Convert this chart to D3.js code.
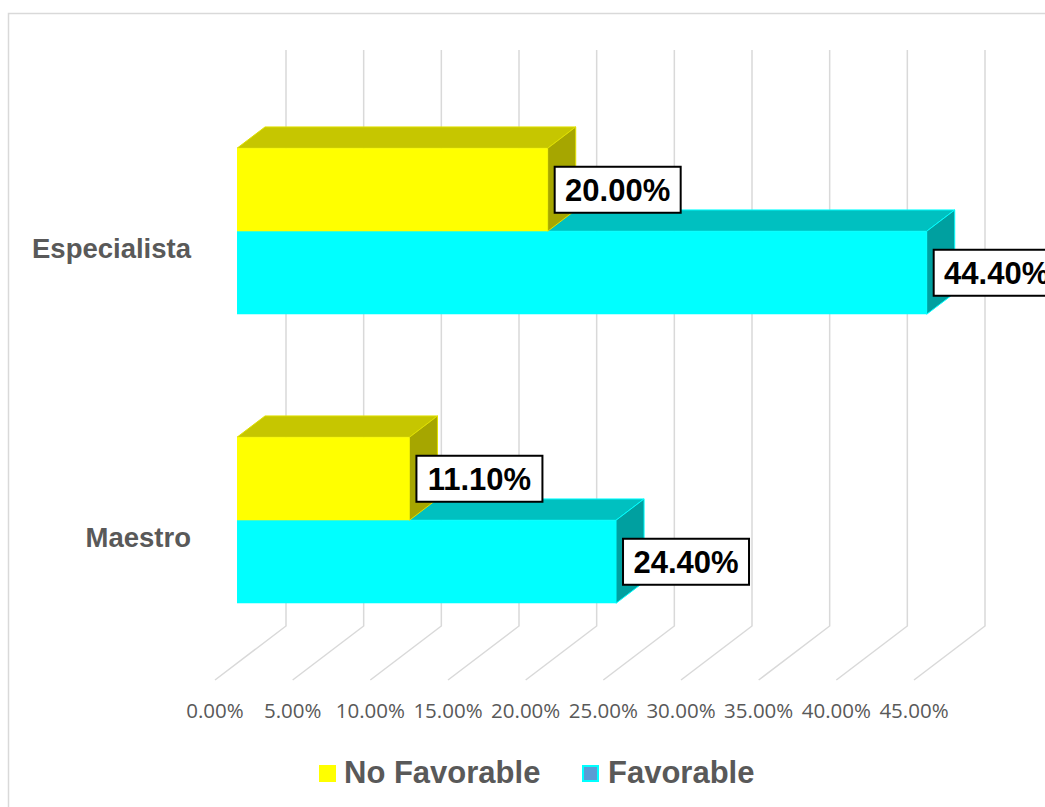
<!DOCTYPE html>
<html><head><meta charset="utf-8">
<script src="https://cdn.jsdelivr.net/npm/d3@7"></script>
<style>body{margin:0;background:#fff;overflow:hidden}</style></head>
<body>
<script>
const categories = ["Especialista", "Maestro"];
const seriesNames = ["No Favorable", "Favorable"];
const noFavorable = [20.0, 11.1];
const favorable = [44.4, 24.4];
const tickValues = [0, 5, 10, 15, 20, 25, 30, 35, 40, 45];
const tickLabels = ["0.00%", "5.00%", "10.00%", "15.00%", "20.00%", "25.00%", "30.00%", "35.00%", "40.00%", "45.00%"];

const W = 1045, H = 807;
const svg = d3.select("body").append("svg").attr("width", W).attr("height", H);

// chart border
svg.append("rect").attr("x", 8.5).attr("y", 13.5).attr("width", 1100).attr("height", 900)
  .attr("fill", "none").attr("stroke", "#D9D9D9").attr("stroke-width", 1.5);

// scales (front plane)
const x = d3.scaleLinear().domain([0, 45]).range([215, 914]);
const y = d3.scalePoint().domain(categories).range([248, 537]);
const DX = 71, DY = -54;          // full depth vector
const floorY = 680, topBack = 50;
const d0 = 0.31, d1 = 0.705;       // bar depth span
const barH = 83;
const P = (v, yy, d) => [x(v) + d * DX, yy + d * DY];

// gridlines: back wall verticals + floor diagonals
const grid = svg.append("g").attr("stroke", "#D9D9D9").attr("stroke-width", 1.5).attr("fill", "none");
tickValues.forEach(t => {
  const bx = x(t) + DX, by = floorY + DY;
  grid.append("path").attr("d", `M${bx},${topBack}L${bx},${by}L${x(t)},${floorY}`);
});

// axis tick labels
const axisG = svg.append("g");
tickValues.forEach((t, i) => {
  axisG.append("text").attr("x", x(t)).attr("y", 718).attr("text-anchor", "middle")
    .attr("font-family", "'Open Sans', sans-serif").attr("font-size", 20.5).attr("fill", "#595959")
    .text(tickLabels[i]);
});

// category labels
categories.forEach(c => {
  svg.append("text").attr("x", 191).attr("y", y(c) + 10).attr("text-anchor", "end")
    .attr("font-family", "'Liberation Sans', Arial, sans-serif").attr("font-weight", "bold")
    .attr("font-size", 27.5).attr("fill", "#595959").text(c);
});

const styles = {
  "No Favorable": {front: "#FFFF00", top: "#C6C600", side: "#A6A600", edge: "#E0E000"},
  "Favorable": {front: "#00FFFF", top: "#00C0C0", side: "#00A0A0", edge: "#00FFFF"}
};

function bar(g, v, yTop, st) {
  const yBot = yTop + barH;
  const poly = pts => "M" + pts.map(p => p.join(",")).join("L") + "Z";
  // top face
  g.append("path").attr("d", poly([P(0, yTop, d0), P(v, yTop, d0), P(v, yTop, d1), P(0, yTop, d1)]))
    .attr("fill", st.top).attr("stroke", st.edge).attr("stroke-width", 1);
  // side face
  g.append("path").attr("d", poly([P(v, yTop, d0), P(v, yTop, d1), P(v, yBot, d1), P(v, yBot, d0)]))
    .attr("fill", st.side).attr("stroke", st.edge).attr("stroke-width", 1);
  // front face
  const f0 = P(0, yTop, d0), f1 = P(v, yBot, d0);
  g.append("rect").attr("x", f0[0]).attr("y", f0[1]).attr("width", f1[0] - f0[0]).attr("height", f1[1] - f0[1])
    .attr("fill", st.front);
}

function label(v, yTop) {
  const fr = P(v, yTop, d0);
  const bx = fr[0] + 7, cy = fr[1] + barH / 2;
  const g = svg.append("g");
  g.append("rect").attr("x", bx).attr("y", cy - 23).attr("width", 126).attr("height", 46)
    .attr("fill", "#fff").attr("stroke", "#000").attr("stroke-width", 2);
  g.append("text").attr("x", bx + 63).attr("y", cy + 11).attr("text-anchor", "middle")
    .attr("font-family", "'Liberation Sans', Arial, sans-serif").attr("font-weight", "bold")
    .attr("font-size", 31).attr("fill", "#000").text(v.toFixed(2) + "%");
}

const barsG = svg.append("g");
categories.forEach((c, i) => {
  const yc = y(c);
  bar(barsG, favorable[i], yc, styles["Favorable"]);
  bar(barsG, noFavorable[i], yc - barH, styles["No Favorable"]);
});
categories.forEach((c, i) => {
  const yc = y(c);
  label(noFavorable[i], yc - barH);
  label(favorable[i], yc);
});

// legend
const leg = svg.append("g");
const legItems = [
  {name: seriesNames[0], sx: 319, tx: 344, fill: "#FFFF00", stroke: "none"},
  {name: seriesNames[1], sx: 582, tx: 608, fill: "#5B9BD5", stroke: "#00FFFF"}
];
legItems.forEach(it => {
  leg.append("rect").attr("x", it.sx + (it.stroke === "none" ? 0 : 1)).attr("y", 765 + (it.stroke === "none" ? 0 : 1))
    .attr("width", it.stroke === "none" ? 17 : 15).attr("height", it.stroke === "none" ? 17 : 15)
    .attr("fill", it.fill).attr("stroke", it.stroke).attr("stroke-width", 2);
  leg.append("text").attr("x", it.tx).attr("y", 783)
    .attr("font-family", "'Liberation Sans', Arial, sans-serif").attr("font-weight", "bold")
    .attr("font-size", 31).attr("fill", "#595959").text(it.name);
});
</script>
</body></html>
